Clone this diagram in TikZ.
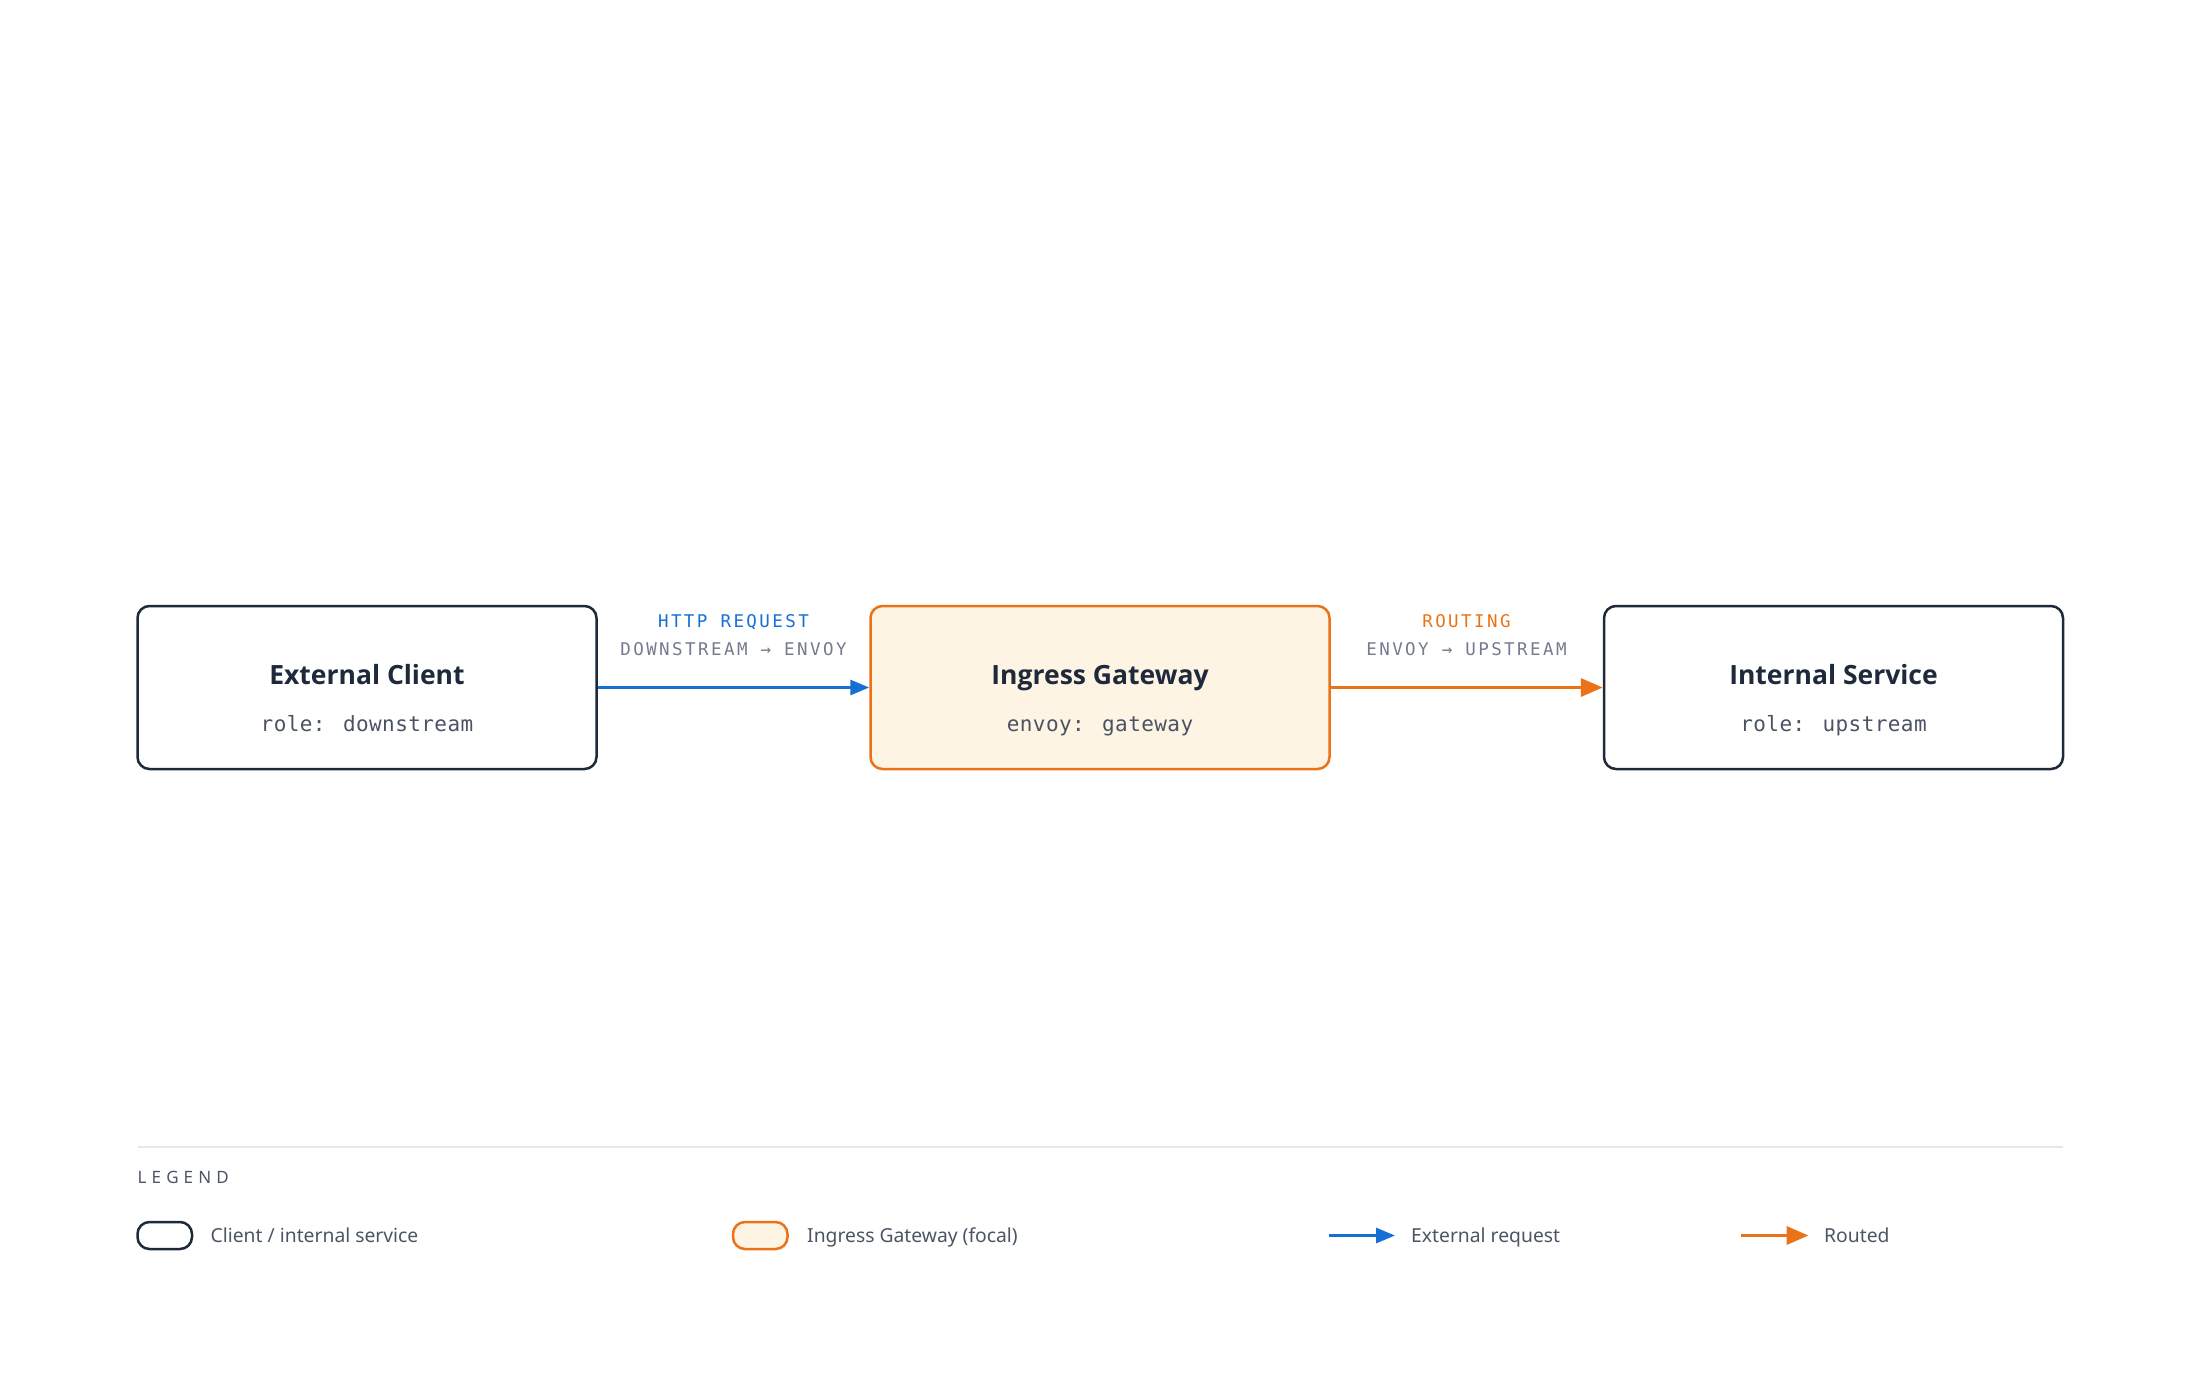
\documentclass[tikz,border=0pt]{standalone}
\usepackage{fontspec}
\setmainfont{Noto Sans}
\newfontfamily\titlef{Open Sans}
\newfontfamily\monof[LetterSpace=2]{DejaVu Sans Mono}
\newfontfamily\monols[LetterSpace=14]{DejaVu Sans Mono}
\newfontfamily\sansls[LetterSpace=30]{Noto Sans}
\usetikzlibrary{arrows.meta}
\definecolor{navy}{HTML}{1E293B}
\definecolor{orng}{HTML}{EA7317}
\definecolor{cream}{HTML}{FDF4E3}
\definecolor{blu}{HTML}{1570D4}
\definecolor{gry}{HTML}{737B8C}
\definecolor{subg}{HTML}{4A5264}
\definecolor{txtg}{HTML}{4B5563}
\definecolor{rulec}{HTML}{E5E7EB}
\tikzset{
  nodebox/.style={draw=navy, line width=2.5pt, rounded corners=12pt, minimum width=459pt, minimum height=163pt, fill=white, inner sep=0pt},
  focalbox/.style={nodebox, draw=orng, fill=cream},
  title/.style={text=navy, font=\fontsize{26.5}{31}\selectfont\titlef\bfseries, inner sep=0pt, anchor=base},
  sub/.style={text=subg, font=\fontsize{21}{25}\selectfont\monof, inner sep=0pt, anchor=base},
  lbl/.style={font=\fontsize{17.5}{21}\selectfont\monols, inner sep=0pt, anchor=base},
  flowb/.style={draw=blu, line width=3pt, -{Triangle[length=19pt,width=15pt]}},
  flowo/.style={draw=orng, line width=3.5pt, -{Triangle[length=22pt,width=18pt]}},
  legtxt/.style={text=txtg, font=\fontsize{19.3}{23}\selectfont, inner sep=0pt, anchor=base west},
  swatch/.style={draw=navy, line width=2.5pt, rounded corners=12pt, minimum width=54.5pt, minimum height=27pt, inner sep=0pt, fill=white},
}
\begin{document}
\begin{tikzpicture}[x=1pt,y=-1pt]
\useasboundingbox[fill=white] (0,0) rectangle (2200,1376);

% main nodes
\node[nodebox] (client) at (367,687.5) {};
\node[focalbox] (gw) at (1100,687.5) {};
\node[nodebox] (svc) at (1833.5,687.5) {};

\node[title] (t1) at (367,684) {External Client};
\node[sub] (s1) at (367,731) {role: downstream};
\node[title] (t2) at (1100,684) {Ingress Gateway};
\node[sub] (s2) at (1100,731) {envoy: gateway};
\node[title] (t3) at (1833.5,684) {Internal Service};
\node[sub] (s3) at (1833.5,731) {role: upstream};

% connectors
\draw[flowb] (client.east) -- (gw.west);
\draw[flowo] (gw.east) -- (svc.west);

\node[lbl, text=blu] (l1a) at (733.5,627) {HTTP REQUEST};
\node[lbl, text=gry] (l1b) at (733.5,655) {DOWNSTREAM → ENVOY};
\node[lbl, text=orng] (l2a) at (1466.5,627) {ROUTING};
\node[lbl, text=gry] (l2b) at (1466.5,655) {ENVOY → UPSTREAM};

% legend
\coordinate (ruleL) at (137.5,1147);
\coordinate (ruleR) at (2063,1147);
\draw[rulec, line width=2pt] (ruleL) -- (ruleR);
\node[anchor=base west, text=txtg, font=\fontsize{17}{20}\selectfont\sansls, inner sep=0pt] (legend) at (137.5,1183.5) {LEGEND};

\node[swatch] (sw1) at (164.75,1235.5) {};
\node[legtxt] (lt1) at (210.5,1242.5) {Client / internal service};
\node[swatch, draw=orng, fill=cream] (sw2) at (760.25,1235.5) {};
\node[legtxt] (lt2) at (807,1242.5) {Ingress Gateway (focal)};

\coordinate (la1) at (1329,1235.5);
\coordinate (lb1) at (1395,1235.5);
\draw[flowb] (la1) -- (lb1);
\node[legtxt] (lt3) at (1411,1242.5) {External request};
\coordinate (la2) at (1741,1235.5);
\coordinate (lb2) at (1808.5,1235.5);
\draw[flowo] (la2) -- (lb2);
\node[legtxt] (lt4) at (1824,1242.5) {Routed};
\end{tikzpicture}
\end{document}
